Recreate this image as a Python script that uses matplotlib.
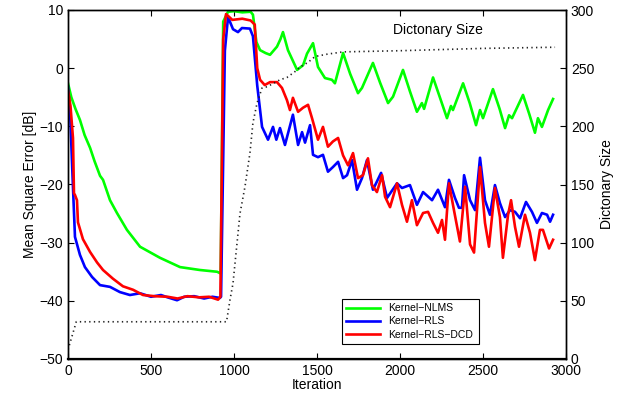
import matplotlib
matplotlib.use("Agg")
import matplotlib.pyplot as plt

plt.rcParams["font.family"] = ["Liberation Sans", "DejaVu Sans"]

# Kernel-NLMS
nlms_it = [0, 20, 45, 72, 100, 133, 160, 193, 211, 253, 295, 355, 434, 554, 675, 795, 898, 920,
           935, 964, 1000, 1050, 1100, 1114, 1135, 1157, 1190, 1217, 1259, 1280, 1295, 1325, 1380,
           1416, 1440, 1476, 1506, 1548, 1590, 1608, 1657, 1700, 1747, 1771, 1837, 1880, 1928,
           1958, 2018, 2060, 2102, 2132, 2145, 2199, 2240, 2283, 2307, 2319, 2380, 2420, 2458,
           2482, 2500, 2560, 2600, 2633, 2657, 2675, 2741, 2780, 2813, 2831, 2855, 2892, 2922]
nlms_db = [-2.6, -5.0, -7.0, -8.9, -11.5, -13.7, -16.0, -18.5, -19.2, -22.7, -24.9, -27.8, -30.7,
           -32.6, -34.2, -34.7, -35.0, -35.3, 8.0, 9.7, 9.8, 9.6, 9.7, 9.2, 4.5, 3.1, 2.6, 2.3,
           3.7, 5.0, 6.2, 3.1, -0.3, 0.5, 2.5, 4.3, 0.2, -1.7, -2.0, -2.6, 2.6, -1.0, -4.3, -3.4,
           0.9, -2.5, -6.0, -4.9, -0.3, -4.0, -7.5, -6.0, -7.0, -1.6, -5.0, -8.6, -6.5, -7.2,
           -2.6, -6.0, -9.8, -7.2, -8.6, -3.6, -7.0, -10.3, -8.1, -8.6, -4.6, -8.0, -11.1, -8.6,
           -10.1, -7.2, -5.3]

# Kernel-RLS
rls_it = [0, 12, 30, 42, 72, 102, 145, 193, 253, 313, 373, 434, 500, 560, 600, 657, 700, 760,
          820, 870, 915, 922, 945, 964, 994, 1024, 1048, 1096, 1114, 1140, 1169, 1205, 1235, 1255,
          1277, 1307, 1355, 1386, 1410, 1428, 1458, 1476, 1506, 1536, 1566, 1596, 1627, 1657,
          1681, 1711, 1741, 1771, 1801, 1837, 1886, 1922, 1982, 2012, 2060, 2102, 2139, 2193,
          2229, 2271, 2295, 2331, 2355, 2373, 2386, 2422, 2452, 2482, 2512, 2542, 2572, 2602,
          2633, 2663, 2693, 2723, 2759, 2795, 2825, 2855, 2886, 2904, 2922]
rls_db = [-3.2, -7.2, -20.5, -29.0, -32.1, -34.2, -35.9, -37.3, -37.6, -38.5, -39.0, -38.7, -39.3,
          -39.0, -39.4, -39.9, -39.3, -39.2, -39.6, -39.3, -39.5, -39.3, 3.0, 8.8, 6.7, 6.2, 6.9,
          6.8, 5.5, -3.0, -10.1, -12.3, -10.1, -12.3, -10.3, -13.2, -8.0, -13.2, -11.0, -12.8,
          -9.8, -14.9, -15.3, -14.9, -17.8, -17.0, -16.1, -18.9, -18.4, -15.8, -20.9, -18.9,
          -15.8, -20.9, -18.0, -22.3, -19.8, -20.6, -20.1, -23.5, -21.3, -22.7, -20.9, -23.9,
          -19.2, -22.3, -24.0, -24.0, -18.4, -22.7, -24.4, -15.4, -22.7, -25.2, -20.1, -23.2,
          -25.6, -24.4, -24.7, -25.8, -23.0, -24.7, -26.6, -24.9, -25.2, -26.4, -25.2]

# Kernel-RLS-DCD
dcd_it = [0, 15, 30, 36, 42, 54, 60, 90, 133, 175, 211, 271, 331, 392, 452, 520, 600, 660, 720,
          790, 850, 904, 918, 935, 952, 990, 1050, 1100, 1125, 1140, 1157, 1185, 1217, 1259, 1289,
          1319, 1337, 1355, 1386, 1416, 1446, 1470, 1506, 1536, 1566, 1596, 1627, 1657, 1687,
          1717, 1747, 1777, 1807, 1831, 1861, 1892, 1910, 1940, 1982, 2012, 2042, 2072, 2102,
          2139, 2169, 2199, 2229, 2253, 2271, 2295, 2325, 2361, 2392, 2422, 2446, 2482, 2512,
          2536, 2572, 2602, 2620, 2651, 2669, 2693, 2717, 2753, 2783, 2813, 2843, 2861, 2898, 2922]
dcd_db = [-3.8, -6.5, -12.0, -21.5, -21.8, -22.7, -26.5, -29.4, -31.6, -33.4, -34.7, -36.2, -37.5,
          -38.1, -39.0, -39.2, -39.3, -39.6, -39.2, -39.4, -39.3, -39.8, -39.3, 5.0, 9.3, 8.3,
          8.5, 8.2, 7.5, 0.0, -2.0, -2.9, -2.4, -2.4, -3.4, -5.5, -7.2, -5.1, -7.5, -6.8, -6.3,
          -8.6, -12.3, -10.1, -13.5, -12.6, -12.0, -15.0, -16.7, -14.6, -18.9, -18.4, -15.5,
          -20.1, -21.3, -18.4, -22.1, -23.9, -19.8, -23.5, -26.4, -22.7, -27.0, -24.9, -24.7,
          -26.6, -28.3, -26.1, -29.5, -19.8, -24.4, -29.8, -20.4, -30.3, -31.7, -17.0, -26.6,
          -30.7, -20.6, -25.6, -32.6, -25.2, -22.7, -27.3, -30.7, -25.2, -28.3, -33.0, -27.8,
          -27.8, -31.0, -29.5]

# dictionary size (right axis)
dict_it = [0, 50, 955, 976, 994, 1036, 1066, 1096, 1114, 1139, 1169, 1199, 1277, 1319, 1367,
           1398, 1446, 1488, 1560, 1657, 2000, 2500, 2934]
dict_size = [8, 32, 32, 51, 65, 125, 148, 177, 203, 220, 233, 234, 240, 242, 247, 251, 255,
             260, 262, 264, 265, 267, 268]

W, H = 629, 403
fig = plt.figure(figsize=(W / 100, H / 100), dpi=100)
ax = fig.add_axes([68 / W, 1 - 359 / H, (566 - 68) / W, (359 - 10) / H])
ax2 = ax.twinx()

ax2.plot(dict_it, dict_size, color="#222222", linewidth=1.2, linestyle=(0, (0.8, 2.0)))
ax.plot(nlms_it, nlms_db, color="#00FF00", linewidth=1.9, label="Kernel\u2212NLMS")
ax.plot(rls_it, rls_db, color="#0000FF", linewidth=1.9, label="Kernel\u2212RLS")
ax.plot(dcd_it, dcd_db, color="#FF0000", linewidth=1.9, label="Kernel\u2212RLS\u2212DCD")

ax.set_xlim(0, 3000); ax.set_ylim(-50, 10)
ax2.set_ylim(0, 300)
ax.set_xticks(range(0, 3001, 500)); ax.set_yticks(range(-50, 11, 10))
ax2.set_yticks(range(0, 301, 50))
ax.tick_params(direction="in", top=True, labelsize=10, length=4)
ax2.tick_params(direction="in", labelsize=10, length=4)
ax.yaxis.set_major_formatter(matplotlib.ticker.FuncFormatter(lambda v, p: f"{v:g}".replace("-", "\u2212")))

ax.set_xlabel("Iteration", fontsize=10, labelpad=0)
ax.set_ylabel("Mean Square Error [dB]", fontsize=10, labelpad=2)
ax2.set_ylabel("Dictonary Size", fontsize=10, labelpad=4)
ax.text(2229, 6.6, "Dictonary Size", ha="center", va="center", fontsize=10)

for a in (ax, ax2):
    for s in a.spines.values():
        s.set_linewidth(1.0)
ax.spines["bottom"].set_linewidth(1.6)

leg = ax.legend(loc="lower left", bbox_to_anchor=(0.54, 0.029, 0.295, 0.146), mode="expand",
                fontsize=7.5, fancybox=False, framealpha=1, edgecolor="black",
                handlelength=3.2, borderpad=0.4, labelspacing=0.3)
leg.get_frame().set_linewidth(0.8)

fig.savefig("out.png", dpi=100)
